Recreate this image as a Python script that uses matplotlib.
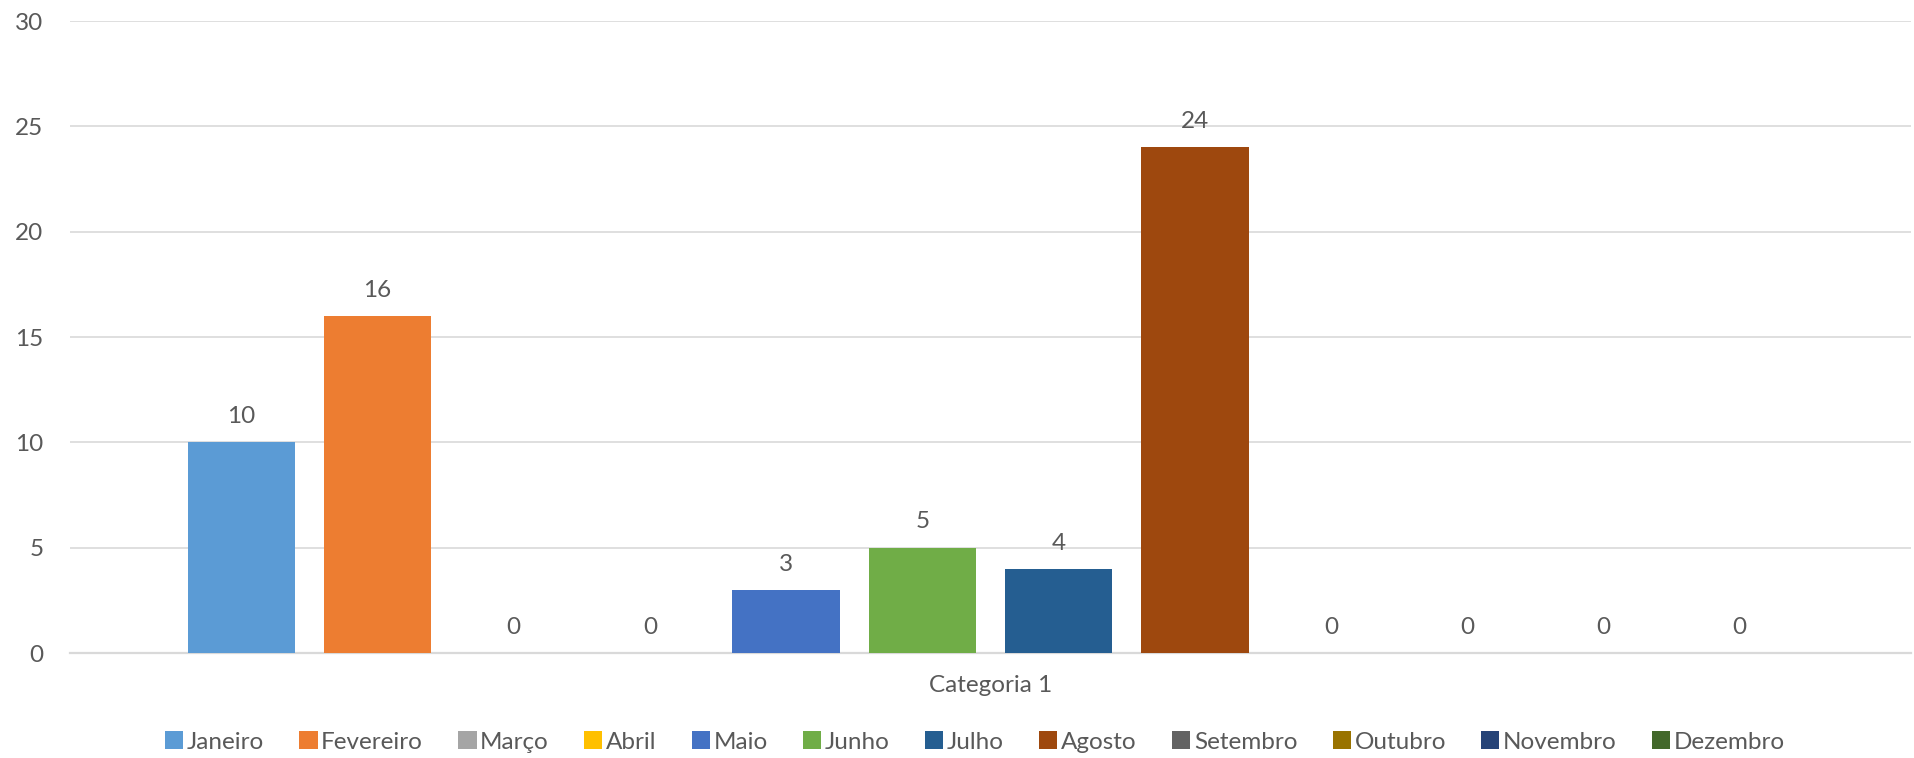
import matplotlib.pyplot as plt
import numpy as np

plt.rcParams['font.family'] = ['Lato', 'DejaVu Sans']

meses = ['Janeiro', 'Fevereiro', 'Março', 'Abril', 'Maio', 'Junho',
         'Julho', 'Agosto', 'Setembro', 'Outubro', 'Novembro', 'Dezembro']
valores = [10, 16, 0, 0, 3, 5, 4, 24, 0, 0, 0, 0]
categoria = 'Categoria 1'
cores = ['#5B9BD5', '#ED7D31', '#A5A5A5', '#FFC000', '#4472C4', '#70AD47',
         '#255E91', '#9E480E', '#636363', '#997300', '#264478', '#43682B']

texto = '#595959'
grade = '#D9D9D9'
fs = 17.5

fig = plt.figure(figsize=(19.14, 7.58), dpi=100)
ax = fig.add_axes([70 / 1914, 105 / 758, 1841 / 1914, 632 / 758])

passo = 0.074
largura = 0.0583
n = len(meses)
for i, (mes, v, c) in enumerate(zip(meses, valores, cores)):
    x = (i - (n - 1) / 2) * passo
    ax.bar(x, v, width=largura, color=c, label=mes, zorder=3)
    ax.annotate(str(v), (x, v), textcoords='offset points', xytext=(0, 18.5),
                ha='center', va='center', fontsize=fs, color=texto)

ax.set_xlim(-0.5, 0.5)
ax.set_ylim(0, 30)
ax.set_yticks(np.arange(0, 31, 5))
ax.set_xticks([0])
ax.set_xticklabels([categoria])
ax.grid(axis='y', color=grade, linewidth=1.2, zorder=0)
for s in ['top', 'right', 'left']:
    ax.spines[s].set_visible(False)
ax.spines['bottom'].set_color(grade)
ax.spines['bottom'].set_linewidth(1.6)
ax.tick_params(axis='y', length=0, pad=19, labelsize=fs, labelcolor=texto)
ax.tick_params(axis='x', length=0, pad=16, labelsize=fs, labelcolor=texto)

fig.legend(loc='center', bbox_to_anchor=(975 / 1914, 16 / 758), ncol=12,
           frameon=False, fontsize=fs, labelcolor=texto, handlelength=0.75,
           handleheight=0.75, handletextpad=0.15, columnspacing=1.45,
           borderaxespad=0)

fig.savefig('out.png', dpi=100)
